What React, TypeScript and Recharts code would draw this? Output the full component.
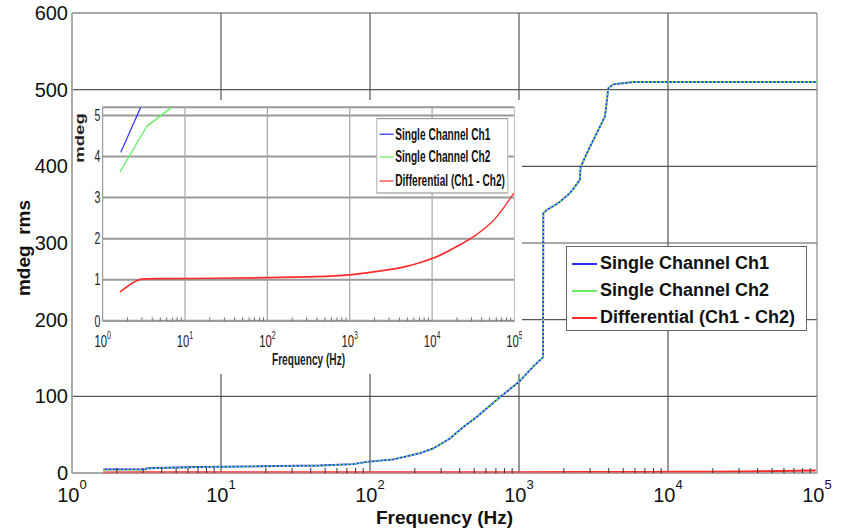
import React from "react";
import { LineChart, Line, XAxis, YAxis, CartesianGrid, ReferenceLine, Label } from "recharts";

const FONT = "'Liberation Sans', Arial, Helvetica, sans-serif";

// axis ticks
const decades = [1, 10, 100, 1000, 10000, 100000];
const freqTicks = decades.flatMap((d) => (d === 100000 ? [d] : [1, 2, 3, 4, 5, 6, 7, 8, 9].map((k) => k * d)));
const mainYTicks = [0, 100, 200, 300, 400, 500, 600];
const insetYTicks = [0, 1, 2, 3, 4, 5];

// main chart series (frequency Hz, mdeg rms)
const ch1Main = [
  { f: 1.62, v: 4.8 }, { f: 3.1, v: 4.8 }, { f: 3.2, v: 6.2 }, { f: 6.9, v: 7.8 },
  { f: 18, v: 8.8 }, { f: 46, v: 9.8 }, { f: 77, v: 11.5 }, { f: 95, v: 14.5 },
  { f: 144, v: 17.8 }, { f: 217, v: 26 }, { f: 266, v: 32 }, { f: 344, v: 45 },
  { f: 423, v: 60 }, { f: 520, v: 73 }, { f: 745, v: 99 }, { f: 1000, v: 119 },
  { f: 1248, v: 139 }, { f: 1450, v: 151 }, { f: 1456, v: 339 }, { f: 1535, v: 343 },
  { f: 1836, v: 352 }, { f: 2198, v: 365 }, { f: 2560, v: 382 }, { f: 2590, v: 399 },
  { f: 2917, v: 421 }, { f: 3320, v: 443 }, { f: 3777, v: 465 }, { f: 3975, v: 502 },
  { f: 4295, v: 507 }, { f: 5848, v: 510 }, { f: 100000, v: 510 },
];
const ch2Main = [
  { f: 1.62, v: 3.6 }, { f: 3.1, v: 4.0 }, { f: 3.2, v: 6.0 }, { f: 6.9, v: 7.6 },
  { f: 18, v: 8.7 }, { f: 46, v: 9.7 }, { f: 77, v: 11.4 }, { f: 95, v: 14.4 },
  { f: 144, v: 17.7 }, { f: 217, v: 26 }, { f: 266, v: 32 }, { f: 344, v: 45 },
  { f: 423, v: 60 }, { f: 520, v: 73 }, { f: 745, v: 99 }, { f: 1000, v: 119 },
  { f: 1248, v: 139 }, { f: 1450, v: 151 }, { f: 1456, v: 339 }, { f: 1535, v: 343 },
  { f: 1836, v: 352 }, { f: 2198, v: 365 }, { f: 2560, v: 382 }, { f: 2590, v: 399 },
  { f: 2917, v: 421 }, { f: 3320, v: 443 }, { f: 3777, v: 465 }, { f: 3975, v: 502 },
  { f: 4295, v: 507 }, { f: 5848, v: 510 }, { f: 100000, v: 510 },
];
const diffData = [
  { f: 1.62, v: 0.7 }, { f: 3.24, v: 1.02 }, { f: 10, v: 1.03 }, { f: 100, v: 1.05 },
  { f: 300, v: 1.07 }, { f: 1000, v: 1.12 }, { f: 2500, v: 1.22 }, { f: 5000, v: 1.33 },
  { f: 7200, v: 1.42 }, { f: 12000, v: 1.58 }, { f: 18000, v: 1.76 }, { f: 32000, v: 2.05 },
  { f: 56000, v: 2.45 }, { f: 98000, v: 3.1 },
];

// inset series (zoomed, mdeg)
const ch1Inset = [{ f: 1.66, v: 4.1 }, { f: 2.9, v: 5.2 }];
const ch2Inset = [{ f: 1.62, v: 3.62 }, { f: 3.43, v: 4.73 }, { f: 6.9, v: 5.2 }];

const seriesNames = ["Single Channel Ch1", "Single Channel Ch2", "Differential (Ch1 - Ch2)"];
const BLUE = "#2b2bff";
const GREEN = "#66ee66";
const RED = "#ff2b2b";
const seriesColors = [BLUE, GREEN, RED];

const isDecade = (v: number) => {
  const e = Math.log10(v);
  return Math.abs(e - Math.round(e)) < 1e-6;
};

const MainXTick = ({ x, y, payload }: any) => {
  const v = payload.value as number;
  const dec = isDecade(v);
  return (
    <g>
      {!dec && <line x1={x} x2={x} y1={y} y2={y - 5} stroke="#333" strokeWidth={1} />}
      {dec && (
        <text x={x} y={y + 29} textAnchor="middle" fontSize={20} fill="#111" fontFamily={FONT}>
          10<tspan dy={-13} fontSize={13}>{Math.round(Math.log10(v))}</tspan>
        </text>
      )}
    </g>
  );
};

const MainTopTick = ({ x, y, payload }: any) =>
  isDecade(payload.value) ? <g /> : <line x1={x} x2={x} y1={y} y2={y + 5} stroke="#333" strokeWidth={1} />;

const InsetXTick = ({ x, y, payload }: any) => {
  const v = payload.value as number;
  const dec = isDecade(v);
  return (
    <g>
      {!dec && <line x1={x} x2={x} y1={y} y2={y - 3} stroke="#555" strokeWidth={1} />}
      {dec && (
        <text x={x} y={y + 22} textAnchor="middle" fontSize={14.5} fill="#222" fontFamily={FONT}>
          10<tspan dy={-7} fontSize={9}>{Math.round(Math.log10(v))}</tspan>
        </text>
      )}
    </g>
  );
};

const LegendBox = ({ style, rows, lineX, lineW, textX, fontSize, lineH }: any) => (
  <div style={{ position: "absolute", boxSizing: "border-box", background: "#fff", ...style }}>
    {seriesNames.map((n, i) => (
      <div key={n} style={{ position: "absolute", left: 0, top: rows[i], width: "100%" }}>
        <div style={{ position: "absolute", left: lineX, width: lineW, top: -lineH / 2, height: lineH, background: seriesColors[i] }} />
        <div
          style={{
            position: "absolute",
            left: textX,
            top: -fontSize * 0.6,
            fontSize,
            lineHeight: `${fontSize * 1.2}px`,
            fontWeight: "bold",
            fontFamily: FONT,
            color: "#111",
            whiteSpace: "nowrap",
          }}
        >
          {n}
        </div>
      </div>
    ))}
  </div>
);

const SX = 0.78;
const SY = 1.2;

const Inset = () => (
  <div style={{ position: "absolute", left: 73, top: 100, width: 449, height: 274, background: "#fff", overflow: "hidden" }}>
    <div style={{ position: "relative", width: 576, height: 228, transform: `scale(${SX}, ${SY})`, transformOrigin: "0 0" }}>
      <LineChart width={576} height={228} margin={{ top: 6, right: 10, bottom: 0, left: 0 }}>
        <CartesianGrid vertical={false} stroke="#999" strokeWidth={1.7} />
        <XAxis
          dataKey="f"
          type="number"
          scale="log"
          domain={[1, 100000]}
          ticks={freqTicks}
          interval={0}
          allowDataOverflow
          height={44}
          tickSize={0}
          tickMargin={0}
          tick={InsetXTick}
          axisLine={{ stroke: "#999", strokeWidth: 1.5 }}
        >
          <Label
            content={() => (
              <text x={302} y={221} textAnchor="middle" fontSize={13} fontWeight="bold" fill="#222" fontFamily={FONT}>
                Frequency (Hz)
              </text>
            )}
          />
        </XAxis>
        <YAxis
          type="number"
          domain={[0, 5.2]}
          ticks={insetYTicks}
          allowDataOverflow
          width={38}
          tickSize={0}
          tickMargin={3}
          tickLine={false}
          axisLine={{ stroke: "#999", strokeWidth: 1.5 }}
          tick={{ fontSize: 13.5, fill: "#222", fontFamily: FONT }}
        >
          <Label
            content={() => (
              <text x={14.7} y={31.7} transform="rotate(-90 14.7 31.7)" textAnchor="middle" fontSize={15.5} fontWeight="bold" fill="#222" fontFamily={FONT}>
                mdeg
              </text>
            )}
          />
        </YAxis>
        {decades.slice(1).map((d) => (
          <ReferenceLine key={d} x={d} stroke={d === 100000 ? "#c4c4c4" : "#a8a8a8"} strokeWidth={1.6} />
        ))}
        <Line data={ch1Inset} dataKey="v" name={seriesNames[0]} stroke={BLUE} strokeWidth={1.4} dot={false} isAnimationActive={false} />
        <Line data={ch2Inset} dataKey="v" name={seriesNames[1]} stroke={GREEN} strokeWidth={1.4} dot={false} isAnimationActive={false} />
        <Line type="monotone" data={diffData} dataKey="v" name={seriesNames[2]} stroke={RED} strokeWidth={1.4} dot={false} isAnimationActive={false} />
      </LineChart>
      <LegendBox
        style={{ left: 388.5, top: 15, width: 169, height: 63, border: "1px solid #999" }}
        rows={[12.5, 31.7, 51.7]}
        lineX={3.5}
        lineW={18}
        textX={23.5}
        fontSize={13}
        lineH={1.4}
      />
    </div>
  </div>
);

export default function App() {
  return (
    <div style={{ position: "absolute", left: 0, top: 0, width: 841, height: 530, background: "#fff", fontFamily: FONT }}>
      <LineChart width={841} height={530} margin={{ top: 13, right: 24, bottom: 0, left: 0 }}>
        <CartesianGrid vertical={false} stroke="#555" strokeWidth={1.2} />
        <XAxis
          dataKey="f"
          type="number"
          scale="log"
          domain={[1, 100000]}
          ticks={freqTicks}
          interval={0}
          allowDataOverflow
          height={57}
          tickSize={0}
          tickMargin={0}
          tick={MainXTick}
          axisLine={{ stroke: "#aaa", strokeWidth: 1 }}
        >
          <Label
            content={() => (
              <text x={444.5} y={524} textAnchor="middle" fontSize={19} fontWeight="bold" fill="#111" fontFamily={FONT}>
                Frequency (Hz)
              </text>
            )}
          />
        </XAxis>
        <XAxis
          xAxisId="top"
          orientation="top"
          dataKey="f"
          type="number"
          scale="log"
          domain={[1, 100000]}
          ticks={freqTicks}
          interval={0}
          allowDataOverflow
          height={0}
          tickSize={0}
          tickMargin={0}
          tick={MainTopTick}
          axisLine={false}
        />
        <YAxis
          type="number"
          domain={[0, 600]}
          ticks={mainYTicks}
          width={72}
          tickSize={0}
          tickMargin={4}
          tickLine={false}
          axisLine={{ stroke: "#aaa", strokeWidth: 2 }}
          tick={{ fontSize: 20, fill: "#111", fontFamily: FONT }}
        >
          <Label
            content={() => (
              <text x={30} y={248} transform="rotate(-90 30 248)" textAnchor="middle" fontSize={19} fontWeight="bold" fill="#111" fontFamily={FONT} style={{ whiteSpace: "pre" }}>
                {"mdeg  rms"}
              </text>
            )}
          />
        </YAxis>
        {decades.slice(1).map((d) => (
          <ReferenceLine key={d} x={d} stroke={d === 100000 ? "#888" : "#555"} strokeWidth={1.2} />
        ))}
        <Line data={ch1Main} dataKey="v" name={seriesNames[0]} stroke={BLUE} strokeWidth={1.8} dot={false} isAnimationActive={false} />
        <Line data={ch2Main} dataKey="v" name={seriesNames[1]} stroke={GREEN} strokeWidth={1.8} strokeDasharray="2 2" dot={false} isAnimationActive={false} />
        <Line data={diffData} dataKey="v" name={seriesNames[2]} stroke={RED} strokeWidth={2} dot={false} isAnimationActive={false} />
      </LineChart>
      <Inset />
      <LegendBox
        style={{ left: 566, top: 246, width: 241, height: 85, border: "1px solid #666" }}
        rows={[17, 44, 71]}
        lineX={5}
        lineW={25}
        textX={33}
        fontSize={18}
        lineH={2}
      />
    </div>
  );
}
